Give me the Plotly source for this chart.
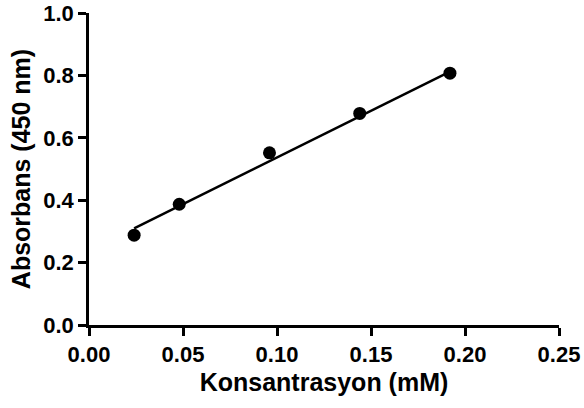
import plotly.graph_objects as go

conc = [0.024, 0.048, 0.096, 0.144, 0.192]
absorb = [0.288, 0.387, 0.552, 0.678, 0.807]
fit_x = [0.024, 0.192]
fit_y = [0.310, 0.812]

x_ticks = [0.0, 0.05, 0.10, 0.15, 0.20, 0.25]
x_tick_labels = ["0.00", "0.05", "0.10", "0.15", "0.20", "0.25"]
y_ticks = [0.0, 0.2, 0.4, 0.6, 0.8, 1.0]
y_tick_labels = ["0.0", "0.2", "0.4", "0.6", "0.8", "1.0"]

font_family = "Arial, Liberation Sans, sans-serif"

fig = go.Figure()
fig.add_trace(go.Scatter(x=fit_x, y=fit_y, mode="lines",
                         line=dict(color="black", width=2.5), showlegend=False))
fig.add_trace(go.Scatter(x=conc, y=absorb, mode="markers",
                         marker=dict(color="black", size=13), showlegend=False))

fig.update_layout(
    width=584, height=408,
    margin=dict(l=89, r=25, t=13, b=83),
    plot_bgcolor="white", paper_bgcolor="white",
    font=dict(family=font_family, color="black", weight="bold"),
    xaxis=dict(
        range=[0, 0.25], tickvals=x_ticks, ticktext=x_tick_labels,
        showline=True, linecolor="black", linewidth=2.5,
        ticks="outside", ticklen=8, tickwidth=2.5, tickcolor="black",
        showgrid=False, zeroline=False, automargin=False,
        tickfont=dict(size=22, family=font_family, weight="bold"),
        title=dict(text="Konsantrasyon (mM)", standoff=8,
                   font=dict(size=25, family=font_family, weight="bold")),
    ),
    yaxis=dict(
        range=[0, 1.0], tickvals=y_ticks, ticktext=y_tick_labels,
        showline=True, linecolor="black", linewidth=2.5,
        ticks="outside", ticklen=8, tickwidth=2.5, tickcolor="black",
        showgrid=False, zeroline=False, automargin=False,
        tickfont=dict(size=22, family=font_family, weight="bold"),
        title=dict(text="Absorbans (450 nm)", standoff=6,
                   font=dict(size=25, family=font_family, weight="bold")),
    ),
)

fig.write_html("out.html", config={"displayModeBar": False},
               post_script="document.body.style.margin='0';")
